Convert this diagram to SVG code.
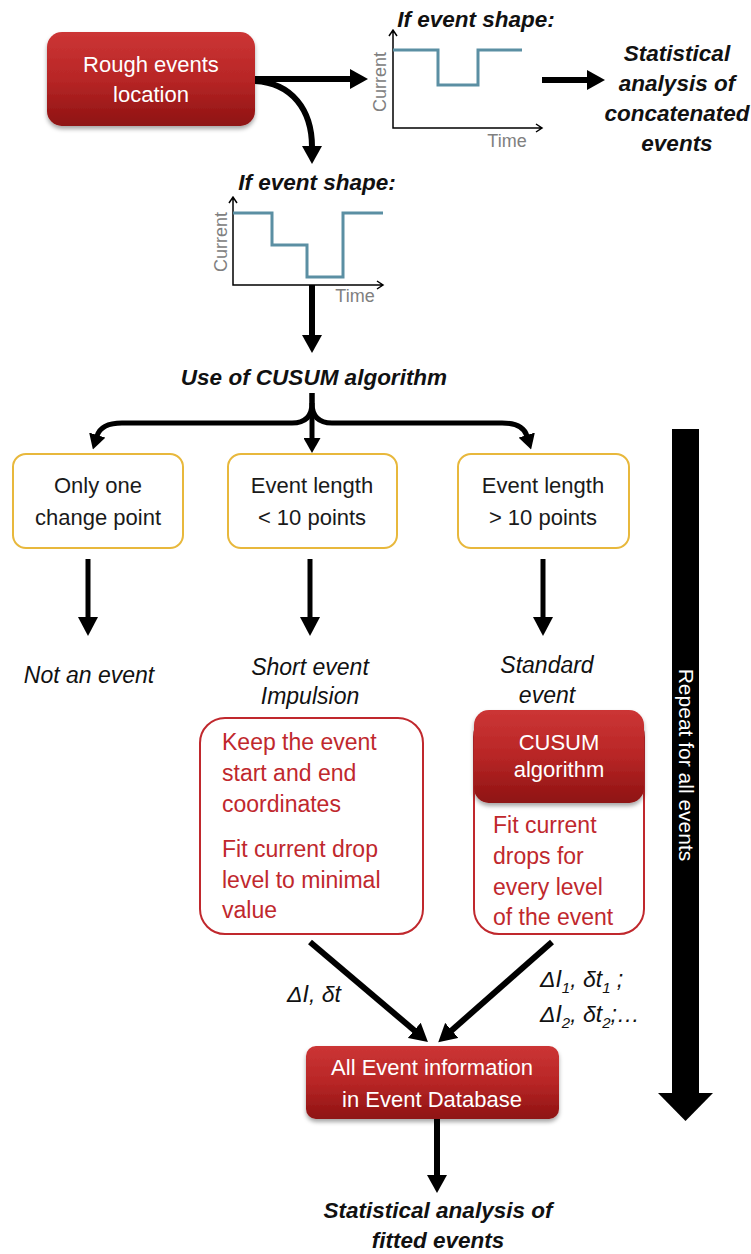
<svg xmlns="http://www.w3.org/2000/svg" width="751" height="1254" viewBox="0 0 751 1254">
<style>
text{font-family:"Liberation Sans",Arial,sans-serif}
.w{fill:#fff;font-size:22px;text-anchor:middle}
.k{fill:#1a1a1a;font-size:22px;text-anchor:middle}
.r{fill:#C0282D;font-size:23px}
.it{fill:#111;font-style:italic;font-size:23px;text-anchor:middle}
.bi{fill:#111;font-style:italic;font-weight:bold;font-size:22.5px;text-anchor:middle}
.ax{fill:#808080;font-size:18px;text-anchor:middle}
.ybox{fill:#fff;stroke:#E8B83C;stroke-width:2}
.rbox{fill:#fff;stroke:#C0282D;stroke-width:2}
.fill{fill:url(#redg);filter:url(#sh)}
.axis{fill:none;stroke:#000;stroke-width:1.5}
.sig{fill:none;stroke:#5B8FA3;stroke-width:3}
.c6{fill:none;stroke:#000;stroke-width:6}
.c5{fill:none;stroke:#000;stroke-width:5}
</style>
<defs>
<linearGradient id="redg" x1="0" y1="0" x2="0" y2="1">
<stop offset="0" stop-color="#CC3535"/>
<stop offset="0.5" stop-color="#B82626"/>
<stop offset="1" stop-color="#8E1212"/>
</linearGradient>
<filter id="sh" x="-10%" y="-10%" width="120%" height="130%">
<feDropShadow dx="0" dy="3" stdDeviation="2" flood-color="#000" flood-opacity="0.35"/>
</filter>
<marker id="ah" viewBox="0 0 18 20" refX="1" refY="10" markerWidth="18" markerHeight="20" markerUnits="userSpaceOnUse" orient="auto"><path d="M0,0 L18,10 L0,20z" fill="#000"/></marker>
<marker id="ahs" viewBox="0 0 15 17" refX="1" refY="8.5" markerWidth="15" markerHeight="17" markerUnits="userSpaceOnUse" orient="auto"><path d="M0,0 L15,8.5 L0,17z" fill="#000"/></marker>
<marker id="ahd" viewBox="0 0 19 20" refX="1" refY="10" markerWidth="19" markerHeight="20" markerUnits="userSpaceOnUse" orient="auto"><path d="M0,0 L19,10 L0,20z" fill="#000"/></marker>
</defs>

<g id="connectors">
<path class="c6" d="M255,79 H351" marker-end="url(#ah)"/>
<path class="c6" d="M255,81 C292,83 312,110 312,147" marker-end="url(#ah)"/>
<path class="c6" d="M542,80 H588" marker-end="url(#ah)"/>
<path class="c6" d="M312,285 V336" marker-end="url(#ah)"/>
<path class="c5" d="M312,393 V403 Q312,423 292,423 H122 Q101,423 97,436" marker-end="url(#ahs)"/>
<path class="c5" d="M312,393 V439" marker-end="url(#ahs)"/>
<path class="c5" d="M312,403 Q312,423 332,423 H502 Q523,423 527,436" marker-end="url(#ahs)"/>
<path class="c5" d="M88,559 V618" marker-end="url(#ahd)"/>
<path class="c5" d="M310,559 V618" marker-end="url(#ahd)"/>
<path class="c5" d="M543,559 V618" marker-end="url(#ahd)"/>
<path class="c6" d="M310,942 L415,1031" marker-end="url(#ah)"/>
<path class="c6" d="M552,942 L451,1031" marker-end="url(#ah)"/>
<path class="c6" d="M437,1119 V1176" marker-end="url(#ah)"/>
</g>

<g id="rough">
<rect class="fill" x="47" y="32" width="208" height="94" rx="15"/>
<text class="w" x="151" y="72">Rough events</text>
<text class="w" x="151" y="102">location</text>
</g>

<g id="shape1">
<text class="bi" x="476" y="27">If event shape:</text>
<path class="axis" d="M393,30 V128 H542 M389,36 L393,30 L397,36 M536,124 L542,128 L536,132"/>
<polyline class="sig" points="393,50 438,50 438,85 478,85 478,50 522,50"/>
<text class="ax" transform="translate(386,82) rotate(-90)">Current</text>
<text class="ax" x="507" y="147">Time</text>
</g>

<g id="stat1">
<text class="bi" x="677" y="61">Statistical</text>
<text class="bi" x="677" y="91">analysis of</text>
<text class="bi" x="677" y="121">concatenated</text>
<text class="bi" x="677" y="151">events</text>
</g>

<g id="shape2">
<text class="bi" x="317" y="190">If event shape:</text>
<path class="axis" d="M233,197 V285 H383 M229,203 L233,197 L237,203 M377,281 L383,285 L377,289"/>
<polyline class="sig" points="233,213 272,213 272,245 307,245 307,277 343,277 343,213 383,213"/>
<text class="ax" transform="translate(227,242) rotate(-90)">Current</text>
<text class="ax" x="355" y="302">Time</text>
</g>

<g id="cusum-use">
<text class="bi" x="314" y="385">Use of CUSUM algorithm</text>
</g>

<g id="box-one">
<rect class="ybox" x="13" y="454" width="170" height="94" rx="13"/>
<text class="k" x="98" y="493">Only one</text>
<text class="k" x="98" y="525">change point</text>
</g>
<g id="box-short">
<rect class="ybox" x="228" y="454" width="169" height="94" rx="13"/>
<text class="k" x="312" y="493">Event length</text>
<text class="k" x="312" y="525">&lt; 10 points</text>
</g>
<g id="box-long">
<rect class="ybox" x="458" y="454" width="171" height="94" rx="13"/>
<text class="k" x="543" y="493">Event length</text>
<text class="k" x="543" y="525">&gt; 10 points</text>
</g>

<g id="not-event">
<text class="it" x="89" y="683">Not an event</text>
</g>
<g id="short-event">
<text class="it" x="310" y="675">Short event</text>
<text class="it" x="310" y="704">Impulsion</text>
</g>
<g id="standard-event">
<text class="it" x="547" y="673">Standard</text>
<text class="it" x="547" y="703">event</text>
</g>

<g id="keep-box">
<rect class="rbox" x="200" y="718" width="223" height="216" rx="25"/>
<text class="r" x="222" y="750">Keep the event</text>
<text class="r" x="222" y="781">start and end</text>
<text class="r" x="222" y="812">coordinates</text>
<text class="r" x="222" y="857">Fit current drop</text>
<text class="r" x="222" y="888">level to minimal</text>
<text class="r" x="222" y="918">value</text>
</g>

<g id="cusum-box">
<rect class="rbox" x="474" y="712" width="170" height="222" rx="25"/>
<rect class="fill" x="474" y="710" width="170" height="93" rx="15"/>
<text class="w" x="559" y="750">CUSUM</text>
<text class="w" x="559" y="777">algorithm</text>
<text class="r" x="493" y="833">Fit current</text>
<text class="r" x="493" y="864">drops for</text>
<text class="r" x="493" y="895">every level</text>
<text class="r" x="493" y="925">of the event</text>
</g>

<g id="labels">
<text class="it" x="314" y="1002">ΔI, δt</text>
<text class="it" style="text-anchor:start" x="540" y="987">ΔI<tspan font-size="15" dy="6">1</tspan><tspan dy="-6">, δt</tspan><tspan font-size="15" dy="6">1</tspan><tspan dy="-6"> ;</tspan></text>
<text class="it" style="text-anchor:start" x="540" y="1022">ΔI<tspan font-size="15" dy="6">2</tspan><tspan dy="-6">, δt</tspan><tspan font-size="15" dy="6">2</tspan><tspan dy="-6">;…</tspan></text>
</g>

<g id="database">
<rect class="fill" x="306" y="1046" width="253" height="73" rx="10"/>
<text class="w" x="432" y="1075">All Event information</text>
<text class="w" x="432" y="1107">in Event Database</text>
</g>

<g id="stat2">
<text class="bi" x="438" y="1218">Statistical analysis of</text>
<text class="bi" x="438" y="1248">fitted events</text>
</g>

<g id="repeat">
<rect x="672" y="429" width="27" height="665" fill="#000"/>
<polygon points="658,1093 713,1093 685.5,1121" fill="#000"/>
<text transform="translate(685.5,765) rotate(90)" y="7" style="fill:#fff;font-size:21px;text-anchor:middle">Repeat for all events</text>
</g>
</svg>
